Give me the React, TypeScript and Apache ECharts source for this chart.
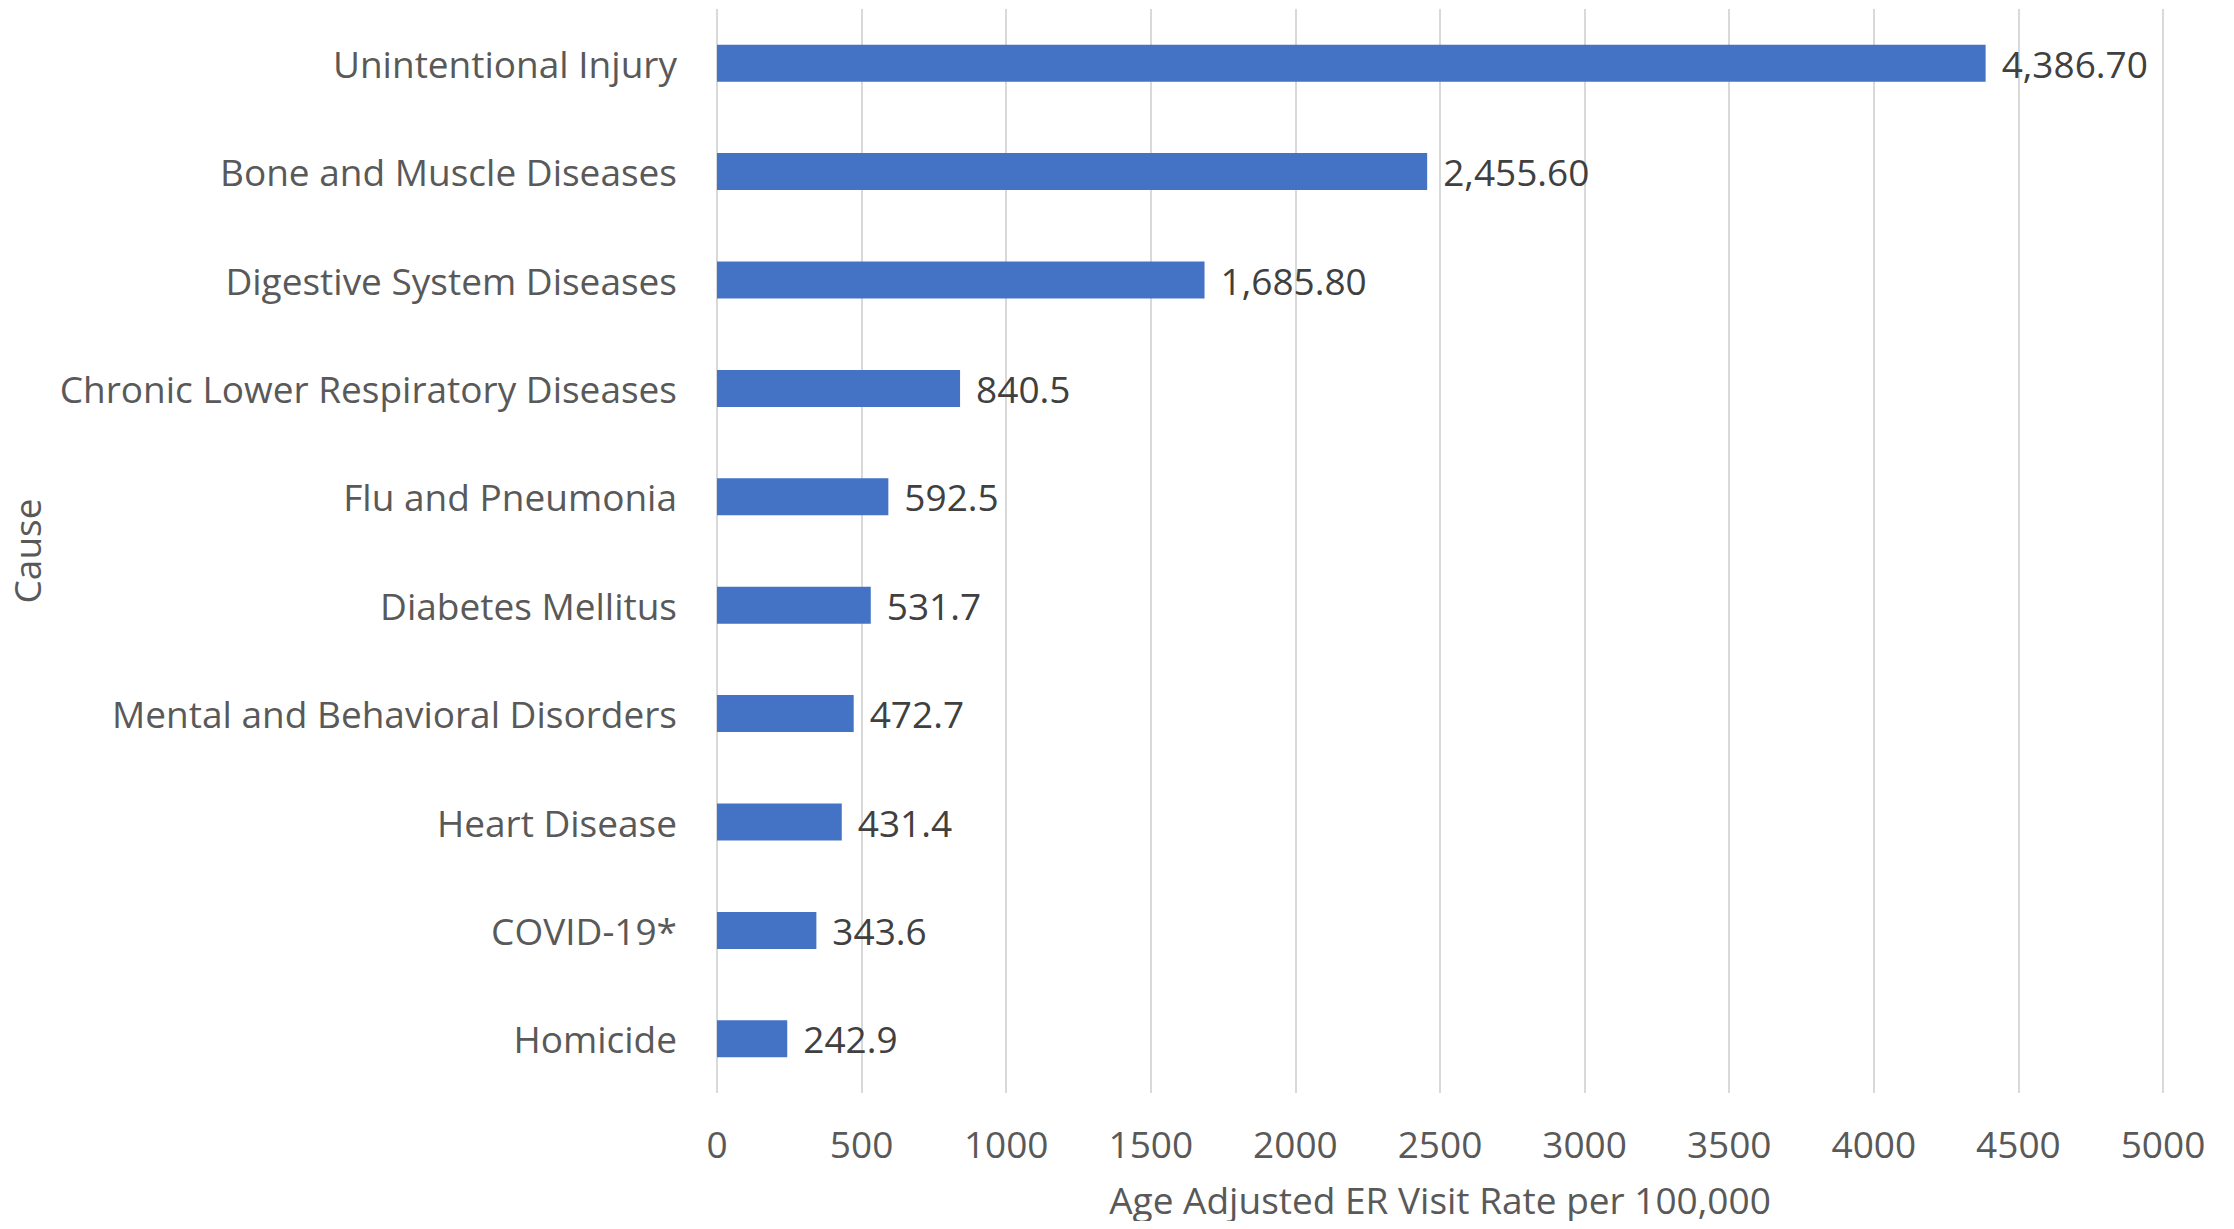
import React, { useEffect, useRef } from "react";
import * as echarts from "echarts";

const categories = [
  "Unintentional Injury",
  "Bone and Muscle Diseases",
  "Digestive System Diseases",
  "Chronic Lower Respiratory Diseases",
  "Flu and Pneumonia",
  "Diabetes Mellitus",
  "Mental and Behavioral Disorders",
  "Heart Disease",
  "COVID-19*",
  "Homicide",
];
const values = [4386.7, 2455.6, 1685.8, 840.5, 592.5, 531.7, 472.7, 431.4, 343.6, 242.9];
const valueLabels = ["4,386.70", "2,455.60", "1,685.80", "840.5", "592.5", "531.7", "472.7", "431.4", "343.6", "242.9"];
const xTicks = [0, 500, 1000, 1500, 2000, 2500, 3000, 3500, 4000, 4500, 5000];

const FONT = "'Open Sans', sans-serif";

export default function App() {
  const ref = useRef<HTMLDivElement>(null);
  useEffect(() => {
    if (!ref.current) return;
    const chart = echarts.init(ref.current, undefined, { renderer: "svg" });
    chart.setOption({
      animation: false,
      backgroundColor: "#ffffff",
      textStyle: { fontFamily: FONT },
      grid: { left: 717, right: 71, top: 9, bottom: 136, containLabel: false },
      xAxis: {
        type: "value",
        min: xTicks[0],
        max: xTicks[xTicks.length - 1],
        interval: 500,
        name: "Age Adjusted ER Visit Rate per 100,000",
        nameLocation: "middle",
        nameGap: 88,
        nameTextStyle: { fontSize: 37, color: "#595959", fontFamily: FONT },
        axisLine: { show: false },
        axisTick: { show: false },
        axisLabel: {
          fontSize: 37,
          color: "#595959",
          margin: 32,
          fontFamily: FONT,
          formatter: (v: number) => String(v),
        },
        splitLine: { show: true, lineStyle: { color: "#d9d9d9", width: 2 } },
      },
      yAxis: {
        type: "category",
        data: categories,
        inverse: true,
        name: "Cause",
        nameLocation: "middle",
        nameGap: 672,
        nameRotate: 90,
        nameTextStyle: { fontSize: 37, color: "#595959", fontFamily: FONT },
        axisLine: { show: false },
        axisTick: { show: false },
        axisLabel: {
          fontSize: 37,
          color: "#595959",
          margin: 40,
          fontFamily: FONT,
          padding: [0, 0, 8, 0],
        },
        splitLine: { show: false },
      },
      series: [
        {
          type: "bar",
          data: values,
          barWidth: 37,
          itemStyle: { color: "#4472c4" },
          label: {
            show: true,
            position: "right",
            distance: 16,
            fontSize: 37,
            color: "#404040",
            fontFamily: FONT,
            formatter: (p: any) => valueLabels[p.dataIndex],
          },
        },
      ],
    });
    return () => chart.dispose();
  }, []);
  return <div ref={ref} style={{ width: 2234, height: 1229, margin: -8 }} />;
}
